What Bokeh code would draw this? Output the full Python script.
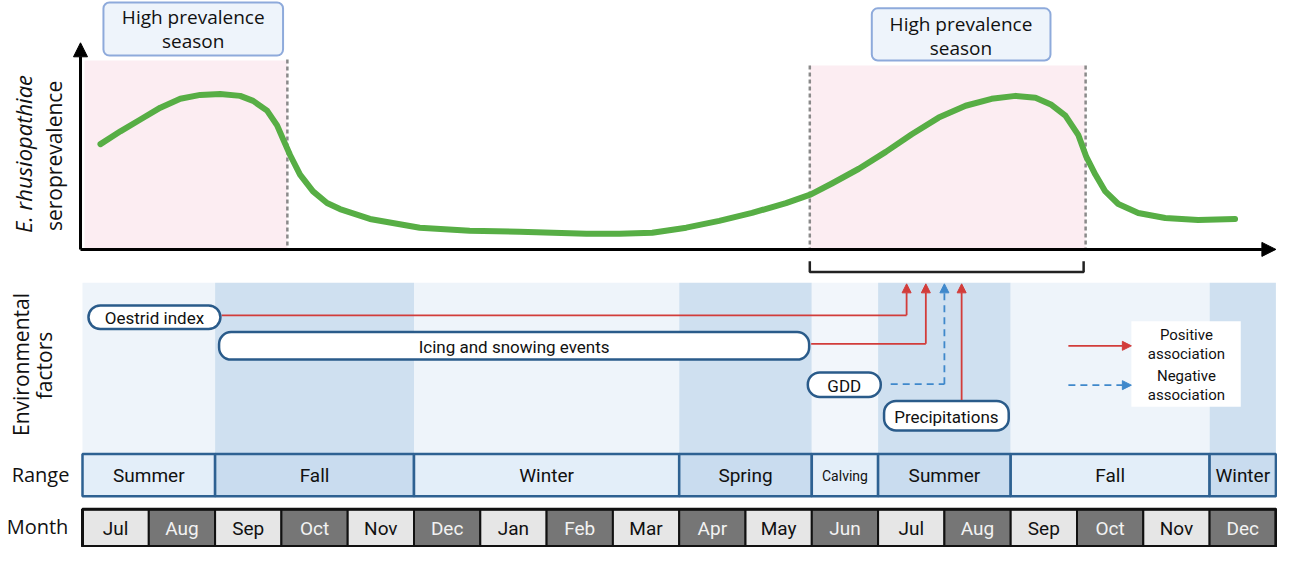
import numpy as np
from bokeh.plotting import figure
from bokeh.models import Range1d, Arrow, NormalHead
from bokeh.core.properties import value
from bokeh.embed import file_html
from bokeh.resources import INLINE

# ---------------- data ----------------
months = ["Jul", "Aug", "Sep", "Oct", "Nov", "Dec", "Jan", "Feb", "Mar",
          "Apr", "May", "Jun", "Jul", "Aug", "Sep", "Oct", "Nov", "Dec"]
range_labels = ["Summer", "Fall", "Winter", "Spring", "Calving", "Summer", "Fall", "Winter"]
range_start = [0, 2, 5, 9, 11, 12, 14, 17]
range_end = [2, 5, 9, 11, 12, 14, 17, 18]
range_tone = ["light", "dark", "light", "dark", "pale", "dark", "light", "dark"]

season_start = [0.03, 10.97]
season_end = [3.09, 15.13]

# seroprevalence curve (month index, relative seroprevalence 0..1)
curve_month = [0.271, 0.572, 0.873, 1.174, 1.475, 1.776, 2.077, 2.378, 2.574, 2.784,
               2.935, 3.025, 3.131, 3.281, 3.477, 3.688, 3.883, 4.335, 5.087, 5.840,
               6.592, 7.601, 8.098, 8.594, 9.106, 9.603, 10.099, 10.611, 10.987, 11.303,
               11.710, 12.116, 12.508, 12.914, 13.320, 13.712, 14.073, 14.374, 14.615,
               14.825, 15.021, 15.141, 15.277, 15.427, 15.623, 15.924, 16.331, 16.827,
               17.384]
curve_sero = [0.543, 0.609, 0.670, 0.731, 0.777, 0.797, 0.802, 0.792, 0.766, 0.716,
              0.640, 0.569, 0.487, 0.386, 0.299, 0.239, 0.208, 0.157, 0.112, 0.096,
              0.091, 0.081, 0.081, 0.086, 0.112, 0.147, 0.188, 0.239, 0.284, 0.340,
              0.416, 0.503, 0.594, 0.680, 0.741, 0.777, 0.792, 0.782, 0.746,
              0.690, 0.589, 0.477, 0.386, 0.299, 0.234, 0.188, 0.162, 0.152,
              0.157]

factor_names = ["Oestrid index", "Icing and snowing events", "GDD", "Precipitations"]
factor_left = [0.09, 2.06, 10.94, 12.09]
factor_right = [2.08, 10.96, 12.04, 13.97]
factor_top = [316, 343, 384, 413]
factor_bottom = [340, 371, 409, 443]
factor_sign = ["positive", "positive", "negative", "positive"]

# ---------------- figure ----------------
W, H = 1277, 547
MW = 66.3  # pixels per month on the canvas
p = figure(width=W, height=H, output_backend="svg", toolbar_location=None,
           x_range=Range1d(-82 / MW, (W - 82) / MW), y_range=Range1d(562, 6),
           min_border=0, outline_line_color=None, background_fill_color="white",
           border_fill_color="white")
p.extra_y_ranges = {"sero": Range1d(-1.538, 1.284)}
p.xaxis.visible = False
p.yaxis.visible = False
p.grid.visible = False

RED = "#d23c3a"
BLUE = "#3f88cb"
PILL = "#2a5b8a"
SANS = value("Open Sans")
ROB = value("Roboto")

# ---------- top panel ----------
p.quad(left=season_start, right=season_end, top=[67, 72], bottom=[258, 258],
       fill_color="#fcedf2", line_color=None)
p.segment(x0=[season_end[0], season_start[1], season_end[1]], y0=[66, 72, 72],
          x1=[season_end[0], season_start[1], season_end[1]], y1=[258, 258, 258],
          line_color="#8a8a8a", line_width=2.5, line_dash="4 3")

p.line(curve_month, curve_sero, y_range_name="sero", line_color="#57ae45",
       line_width=6, line_cap="round", line_join="round")

p.add_layout(Arrow(x_start=-0.03, y_start=259, x_end=-0.03, y_end=49,
                   line_color="black", line_width=3,
                   end=NormalHead(size=14, fill_color="black", line_color="black")))
p.add_layout(Arrow(x_start=-0.03, y_start=259, x_end=18.0, y_end=259,
                   line_color="black", line_width=3,
                   end=NormalHead(size=14, fill_color="black", line_color="black")))

p.line([season_start[1], season_start[1], 15.10, 15.10], [271, 282, 282, 271],
       line_color="#222222", line_width=2.5)

p.quad(left=[0.316, 11.905], right=[3.025, 14.60], top=[8, 14], bottom=[62, 67],
       fill_color="#eef4fb", line_color="#8eaadb", line_width=2, border_radius=6)
p.text(x=[1.67, 13.25, 1.67, 13.25], y=[23, 30, 47, 54],
       text=["High prevalence", "High prevalence", "season", "season"],
       text_align="center", text_baseline="middle", text_font=SANS,
       text_font_size="19px", text_color="#111111")

p.text(x=[-0.890], y=[162], text=["E. rhusiopathiae"], angle=np.pi / 2,
       text_align="center", text_baseline="middle", text_font=SANS,
       text_font_style="italic", text_font_size="22px", text_color="#111111")
p.text(x=[-0.437, -0.935, -0.588], y=[164, 376, 377],
       text=["seroprevalence", "Environmental", "factors"], angle=np.pi / 2,
       text_align="center", text_baseline="middle", text_font=SANS,
       text_font_size="21px", text_color="#111111")
p.text(x=[-0.633, -0.679], y=[488, 541], text=["Range", "Month"],
       text_align="center", text_baseline="middle", text_font=SANS,
       text_font_size="20px", text_color="#111111")

# ---------- environmental factors panel ----------
band_col = {"light": "#eef4fa", "dark": "#cfe0f0", "pale": "#f2f6fb"}
p.quad(left=range_start, right=range_end, top=[293] * len(range_start),
       bottom=[467] * len(range_start),
       fill_color=[band_col[t] for t in range_tone], line_color=None)

arrow_x = [12.43, 12.72, 13.00, 13.26]
line_y = [326, 355, 396, factor_top[3]]
p.line([factor_right[0] + 0.02, arrow_x[0]], [line_y[0], line_y[0]], line_color=RED, line_width=1.8)
p.line([factor_right[1] + 0.03, arrow_x[1]], [line_y[1], line_y[1]], line_color=RED, line_width=1.8)
p.line([factor_right[2] + 0.15, arrow_x[2]], [line_y[2], line_y[2]], line_color=BLUE,
       line_width=1.8, line_dash="7 5")
for i, sgn in enumerate(factor_sign):
    col = RED if sgn == "positive" else BLUE
    p.add_layout(Arrow(x_start=arrow_x[i], y_start=line_y[i] + (0 if i < 3 else -1),
                       x_end=arrow_x[i], y_end=294, line_color=col, line_width=1.8,
                       line_dash="solid" if sgn == "positive" else "7 5",
                       end=NormalHead(size=9, fill_color=col, line_color=col)))

p.quad(left=factor_left, right=factor_right, top=factor_top, bottom=factor_bottom,
       fill_color="white", line_color=PILL, line_width=2.5, border_radius=12)
p.text(x=[(l + r) / 2 for l, r in zip(factor_left, factor_right)],
       y=[(t + b) / 2 + 1 for t, b in zip(factor_top, factor_bottom)],
       text=factor_names, text_align="center", text_baseline="middle",
       text_font=ROB, text_font_size="17px", text_color="#111111")

# legend
p.quad(left=[15.82], right=[17.47], top=[332], bottom=[419], fill_color="white", line_color=None)
p.add_layout(Arrow(x_start=14.87, y_start=357, x_end=15.82, y_end=357, line_color=RED,
                   line_width=1.8, end=NormalHead(size=9, fill_color=RED, line_color=RED)))
p.add_layout(Arrow(x_start=14.87, y_start=397, x_end=15.82, y_end=397, line_color=BLUE,
                   line_width=1.8, line_dash="7 5",
                   end=NormalHead(size=9, fill_color=BLUE, line_color=BLUE)))
p.text(x=[16.65] * 4, y=[346, 365, 388, 407],
       text=["Positive", "association", "Negative", "association"],
       text_align="center", text_baseline="middle", text_font=ROB,
       text_font_size="15px", text_color="#111111")

# ---------- range row ----------
row_col = {"light": "#e3eef9", "dark": "#c9dcef", "pale": "#e3eef9"}
p.quad(left=range_start, right=range_end, top=[467] * len(range_start),
       bottom=[510] * len(range_start),
       fill_color=[row_col[t] for t in range_tone], line_color="#2e6192", line_width=2.5)
p.text(x=[(a + b) / 2 for a, b in zip(range_start, range_end)], y=[489] * len(range_labels),
       text=range_labels, text_align="center", text_baseline="middle", text_font=ROB,
       text_font_size=["19px" if t != "Calving" else "14px" for t in range_labels],
       text_color="#111111")

# ---------- month row ----------
mx = np.arange(len(months))
m_fill = ["#e6e6e6" if i % 2 == 0 else "#767676" for i in range(len(months))]
m_txt = ["#111111" if i % 2 == 0 else "#f2f2f2" for i in range(len(months))]
p.quad(left=mx, right=mx + 1, top=[523] * len(months), bottom=[561] * len(months),
       fill_color=m_fill, line_color="#111111", line_width=2)
p.quad(left=[0], right=[len(months)], top=[523], bottom=[561], fill_color=None,
       line_color="#111111", line_width=3)
p.text(x=mx + 0.5, y=[543] * len(months), text=months, text_align="center",
       text_baseline="middle", text_font=ROB, text_font_size="19px", text_color=m_txt)

open("out.html", "w").write(file_html(p, INLINE))
